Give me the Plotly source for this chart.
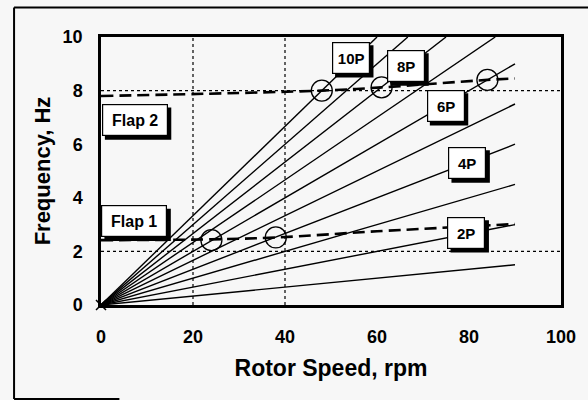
import plotly.graph_objects as go

# Per-rev excitation lines (order, end point)
orders = [1, 2, 3, 4, 5, 6, 7, 8, 9, 10]
end_rpm = [90, 90, 90, 90, 90, 90, 85.7, 75, 66.7, 60]
end_hz = [1.5, 3.0, 4.5, 6.0, 7.5, 9.0, 10, 10, 10, 10]

# Flap modes
flap1_rpm = [0, 24, 38, 60, 90]
flap1_hz = [2.42, 2.45, 2.52, 2.75, 3.02]
flap2_rpm = [0, 48, 61, 84, 90]
flap2_hz = [7.8, 8.0, 8.12, 8.4, 8.45]

# Crossings (circled)
cross_rpm = [24, 38, 48, 61, 84]
cross_hz = [2.42, 2.52, 8.0, 8.12, 8.4]

# Labels
order_labels = ["10P", "8P", "6P", "4P", "2P"]
order_lab_rpm = [54.3, 66.3, 74.9, 79.6, 79.4]
order_lab_hz = [9.22, 8.92, 7.43, 5.3, 2.69]
mode_labels = ["Flap 2", "Flap 1"]
mode_lab_rpm = [7.3, 7.2]
mode_lab_hz = [6.9, 3.12]

x_ticks = [0, 20, 40, 60, 80, 100]
y_ticks = [0, 2, 4, 6, 8, 10]

BG = "#f7f7f7"
FONT = "Liberation Sans"

fig = go.Figure()

for n, xe, ye in zip(orders, end_rpm, end_hz):
    fig.add_trace(go.Scatter(x=[0, xe], y=[0, ye], mode="lines",
                             line=dict(color="black", width=1.4),
                             showlegend=False, hoverinfo="skip"))

for xs, ys in [(flap1_rpm, flap1_hz), (flap2_rpm, flap2_hz)]:
    fig.add_trace(go.Scatter(x=xs, y=ys, mode="lines",
                             line=dict(color="black", width=2.6, dash="12px,6px",
                                       shape="spline"),
                             showlegend=False, hoverinfo="skip"))

fig.add_trace(go.Scatter(x=cross_rpm, y=cross_hz, mode="markers",
                         marker=dict(symbol="circle-open", size=21,
                                     color="black", line=dict(width=1.3)),
                         showlegend=False, hoverinfo="skip"))

fig.add_trace(go.Scatter(x=[0], y=[0], mode="markers",
                         marker=dict(symbol="x-thin-open", size=10,
                                     color="black", line=dict(width=1.5)),
                         showlegend=False, hoverinfo="skip", cliponaxis=False))

# dotted grid lines
for gx in [20, 40]:
    fig.add_shape(type="line", x0=gx, x1=gx, y0=0, y1=10, xref="x", yref="y",
                  line=dict(color="black", width=1.2, dash="dot"), layer="below")
for gy in [2, 8]:
    fig.add_shape(type="line", x0=0, x1=100, y0=gy, y1=gy, xref="x", yref="y",
                  line=dict(color="black", width=1.2, dash="dot"), layer="below")

# outer frame (paper coords relative to plot area)
fig.add_shape(type="line", xref="paper", yref="paper", x0=-0.189, x1=-0.189,
              y0=-0.351, y1=1.11, line=dict(color="black", width=2))
fig.add_shape(type="line", xref="paper", yref="paper", x0=-0.189, x1=1.1,
              y0=1.11, y1=1.11, line=dict(color="black", width=2))
fig.add_shape(type="line", xref="paper", yref="paper", x0=-0.189, x1=0.04,
              y0=-0.351, y1=-0.351, line=dict(color="black", width=2))

annots = []
def box(text, x, y, w, h, size):
    hw = w / 2 + 2.2
    hh = h / 2 + 2.2
    fig.add_shape(type="rect", xref="x", yref="y", xsizemode="pixel",
                  ysizemode="pixel", xanchor=x, yanchor=y,
                  x0=-hw + 3.5, x1=hw + 3.5, y0=-hh - 3.5, y1=hh - 3.5,
                  fillcolor="black", line=dict(width=0), layer="above")
    annots.append(dict(x=x, y=y, xref="x", yref="y", text=text, showarrow=False,
                       width=w, height=h, bgcolor="white", bordercolor="black",
                       borderwidth=1.2, borderpad=1,
                       font=dict(family=FONT, size=size, color="black", weight="bold")))

for t, x, y in zip(order_labels, order_lab_rpm, order_lab_hz):
    box(t, x, y, 34, 28, 15)
for t, x, y in zip(mode_labels, mode_lab_rpm, mode_lab_hz):
    box(t, x, y, 62, 28, 16)

fig.update_layout(
    width=588, height=400,
    margin=dict(l=101, r=21, t=37, b=95),
    paper_bgcolor=BG, plot_bgcolor=BG,
    font=dict(family=FONT, color="black", size=18, weight="bold"),
    annotations=annots,
    xaxis=dict(range=[0, 100], tickvals=x_ticks, showgrid=False, zeroline=False,
               showline=True, mirror=True, linecolor="black", linewidth=2.5,
               ticks="", ticklabelstandoff=14,
               tickfont=dict(family=FONT, size=18, weight="bold"),
               title=dict(text="Rotor Speed, rpm", standoff=14,
                          font=dict(family=FONT, size=23, weight="bold"))),
    yaxis=dict(range=[0, 10], tickvals=y_ticks, showgrid=False, zeroline=False,
               showline=True, mirror=True, linecolor="black", linewidth=2.5,
               ticks="", ticklabelstandoff=12,
               tickfont=dict(family=FONT, size=18, weight="bold"),
               title=dict(text="Frequency, Hz", standoff=6,
                          font=dict(family=FONT, size=22, weight="bold"))),
)

fig.write_html("out.html", config={"displayModeBar": False},
               post_script="document.body.style.margin='0';document.body.style.padding='0';")
